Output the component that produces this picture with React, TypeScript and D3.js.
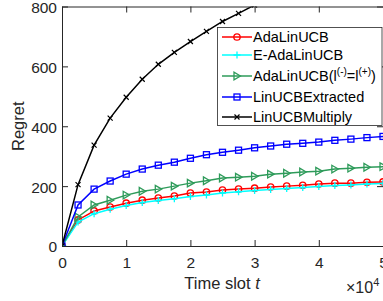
import {Component, createRef} from "react";
import * as d3 from 'd3'

// time slots (units of 10^4)
const timeSlots = [0, 0.25, 0.5, 0.75, 1, 1.25, 1.5, 1.75, 2, 2.25, 2.5, 2.75, 3, 3.25, 3.5, 3.75, 4, 4.25, 4.5, 4.75, 5]

const adaLinUCB = [0, 87, 117, 130, 143, 153, 160, 167, 177, 180, 187, 190, 193, 197, 200, 203, 207, 210, 210, 213, 214]
const eAdaLinUCB = [0, 80, 108, 123, 135, 145, 152, 158, 165, 170, 177, 181, 185, 189, 192, 195, 199, 202, 204, 207, 209]
const adaLinUCBEq = [0, 97, 137, 153, 170, 183, 190, 200, 210, 218, 227, 230, 233, 240, 243, 247, 250, 257, 260, 263, 265]
const linUCBExtracted = [0, 137, 190, 217, 240, 257, 270, 280, 293, 305, 313, 320, 328, 334, 340, 343, 347, 353, 357, 362, 366]
const linUCBMultiply = [0, 205, 337, 427, 497, 557, 607, 647, 683, 717, 750, 777, 805, 832]

const xTicks = [0, 1, 2, 3, 4, 5]
const yTicks = [0, 200, 400, 600, 800]

const series = [
    {name: 'AdaLinUCB', values: adaLinUCB, color: '#ff0000', marker: 'circle'},
    {name: 'E-AdaLinUCB', values: eAdaLinUCB, color: '#00ffff', marker: 'plus'},
    {name: 'AdaLinUCBEq', values: adaLinUCBEq, color: '#2e9b5a', marker: 'triangle'},
    {name: 'LinUCBExtracted', values: linUCBExtracted, color: '#0000ff', marker: 'square'},
    {name: 'LinUCBMultiply', values: linUCBMultiply, color: '#000000', marker: 'cross'},
]

const FONT = 'Liberation Sans, Arial, Helvetica, sans-serif'

class App extends Component {
    myRef = createRef<SVGSVGElement>()
    width = 383
    height = 301
    margin = {top: 6.5, bottom: 55, left: 62, right: 0}

    drawMarker(g, kind, x, y, color) {
        if (kind === 'circle') {
            g.append('circle').attr('cx', x).attr('cy', y).attr('r', 3.2)
                .attr('fill', 'none').attr('stroke', color).attr('stroke-width', 1.3)
        } else if (kind === 'plus') {
            g.append('path').attr('d', `M${x - 3.5},${y}H${x + 3.5}M${x},${y - 3.5}V${y + 3.5}`)
                .attr('stroke', color).attr('stroke-width', 1.3)
        } else if (kind === 'triangle') {
            g.append('path').attr('d', `M${x + 3.5},${y}L${x - 3},${y - 3.8}L${x - 3},${y + 3.8}Z`)
                .attr('fill', 'none').attr('stroke', color).attr('stroke-width', 1.3)
        } else if (kind === 'square') {
            g.append('rect').attr('x', x - 3).attr('y', y - 3).attr('width', 6).attr('height', 6)
                .attr('fill', 'none').attr('stroke', color).attr('stroke-width', 1.3)
        } else {
            g.append('path').attr('d', `M${x - 2.5},${y - 2.5}L${x + 2.5},${y + 2.5}M${x - 2.5},${y + 2.5}L${x + 2.5},${y - 2.5}`)
                .attr('stroke', color).attr('stroke-width', 1.2)
        }
    }

    paint() {
        const svg = d3.select(this.myRef.current)
        svg.selectAll('*').remove()
        const left = this.margin.left
        const right = this.width - this.margin.right
        const top = this.margin.top
        const bottom = 246

        const x = d3.scaleLinear().domain([0, 5]).range([left, right])
        const y = d3.scaleLinear().domain([0, 800]).range([bottom, top])

        svg.append('rect').attr('width', this.width).attr('height', this.height).attr('fill', 'white')

        svg.append('defs').append('clipPath').attr('id', 'plotclip')
            .append('rect').attr('x', left).attr('y', top).attr('width', right - left).attr('height', bottom - top)

        const plot = svg.append('g').attr('clip-path', 'url(#plotclip)')
        const line = d3.line<number>().x((d, i) => x(timeSlots[i])).y(d => y(d))
        series.forEach(s => {
            const g = plot.append('g')
            g.append('path').attr('d', line(s.values)).attr('fill', 'none')
                .attr('stroke', s.color).attr('stroke-width', 1.5)
            s.values.forEach((v, i) => this.drawMarker(g, s.marker, x(timeSlots[i]), y(v), s.color))
        })

        // axes (box on, ticks inward)
        const axisColor = '#262626'
        const axes = svg.append('g')
        const styleAxis = (sel) => {
            sel.select('.domain').attr('stroke', axisColor)
            sel.selectAll('.tick line').attr('stroke', axisColor)
            sel.selectAll('.tick text').attr('fill', '#262626').style('font-family', FONT).style('font-size', '15.5px')
        }
        axes.append('g').attr('transform', `translate(0,${bottom})`)
            .call(d3.axisBottom(x).tickValues(xTicks).tickSize(-6).tickSizeOuter(0).tickPadding(11).tickFormat(d3.format('d')))
            .call(styleAxis)
        axes.append('g').attr('transform', `translate(0,${top})`)
            .call(d3.axisTop(x).tickValues(xTicks).tickSize(-6).tickSizeOuter(0).tickFormat(() => ''))
            .call(styleAxis)
        axes.append('g').attr('transform', `translate(${left},0)`)
            .call(d3.axisLeft(y).tickValues(yTicks).tickSize(-6).tickSizeOuter(0).tickPadding(5))
            .call(styleAxis)
            .call(g => g.selectAll('.tick text').attr('dy', '0.38em'))
        axes.append('g').attr('transform', `translate(${right},0)`)
            .call(d3.axisRight(y).tickValues(yTicks).tickSize(-6).tickSizeOuter(0).tickFormat(() => ''))
            .call(styleAxis)

        // labels
        svg.append('text').attr('x', 222).attr('y', 288.5).attr('text-anchor', 'middle')
            .style('font-family', FONT).style('font-size', '16.5px').attr('fill', '#262626')
            .text('Time slot ')
            .append('tspan').style('font-style', 'italic').text('t')
        svg.append('text').attr('transform', `translate(23.5,${(top + bottom) / 2}) rotate(-90)`)
            .attr('text-anchor', 'middle')
            .style('font-family', FONT).style('font-size', '16.5px').attr('fill', '#262626')
            .text('Regret')
        const exp = svg.append('text').attr('x', 346).attr('y', 293)
            .style('font-family', FONT).style('font-size', '16px').attr('fill', '#262626')
        exp.append('tspan').text('×10')
        exp.append('tspan').attr('dy', -7).style('font-size', '11px').text('4')

        // legend
        const lg = svg.append('g')
        lg.append('rect').attr('x', 217.5).attr('y', 27.5).attr('width', 164.5).attr('height', 98)
            .attr('fill', 'white').attr('stroke', axisColor).attr('stroke-width', 0.8)
        const rowY = [37, 55, 76, 97, 117]
        series.forEach((s, i) => {
            const yy = rowY[i]
            lg.append('line').attr('x1', 222).attr('x2', 252).attr('y1', yy).attr('y2', yy)
                .attr('stroke', s.color).attr('stroke-width', 1.5)
            this.drawMarker(lg, s.marker, 237, yy, s.color)
            const t = lg.append('text').attr('x', 253).attr('y', yy + 5)
                .style('font-family', FONT).style('font-size', '14.5px').attr('fill', '#000')
            if (s.name === 'AdaLinUCBEq') {
                t.append('tspan').text('AdaLinUCB(l')
                t.append('tspan').attr('dy', -6).style('font-size', '10px').text('(-)')
                t.append('tspan').attr('dy', 6).text('=l')
                t.append('tspan').attr('dy', -6).style('font-size', '10px').text('(+)')
                t.append('tspan').attr('dy', 6).text(')')
            } else {
                t.text(s.name)
            }
        })
    }

    componentDidMount() {
        this.paint()
    }

    componentDidUpdate() {
        this.paint()
    }

    render() {
        return (
            <svg ref={this.myRef} width={this.width} height={this.height}
                 style={{position: 'absolute', left: 0, top: 0}}/>
        )
    }
}

export default App
